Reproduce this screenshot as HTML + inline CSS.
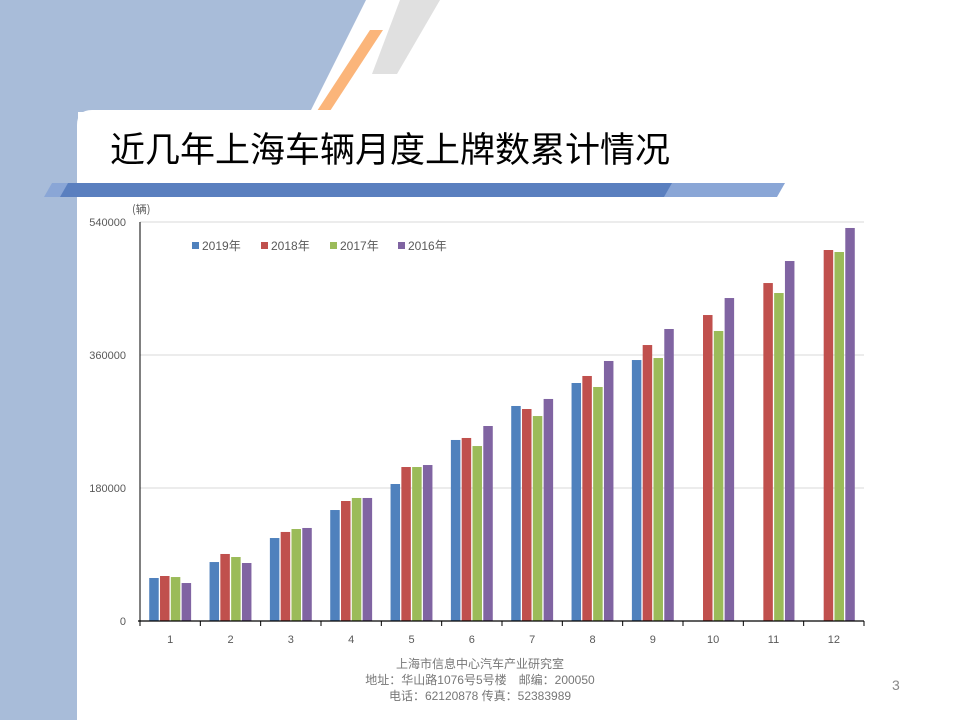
<!DOCTYPE html>
<html><head><meta charset="utf-8">
<style>
html,body{margin:0;padding:0;width:960px;height:720px;overflow:hidden;background:#fff;font-family:"Liberation Sans","Noto Sans CJK SC",sans-serif;}
#stage{position:relative;width:960px;height:720px;}
</style></head>
<body>
<div id="stage">
<svg width="960" height="720" style="position:absolute;left:0;top:0">
  <rect x="0" y="0" width="78" height="720" fill="#a8bcd9"/>
  <polygon points="0,0 366,0 310,112 0,112" fill="#a8bcd9"/>
  <polygon points="400,0 440,0 397,74 372,74" fill="#e0e0e0"/>
  <polygon points="370,30 383,30 330,111 317,111" fill="#fbb57a"/>
  <path d="M77,125 Q77,110 92,110 L960,110 L960,720 L77,720 Z" fill="#fff"/>
  <polygon points="52,183 785,183 777,197 44,197" fill="#8aa6d6"/>
  <polygon points="68,183 672,183 664,197 60,197" fill="#5a7fbf"/>
</svg>
<div style="position:absolute;left:110px;top:126px;font-size:35px;color:#000;font-family:'Noto Sans CJK SC',sans-serif;line-height:44px;letter-spacing:0px;">近几年上海车辆月度上牌数累计情况</div>

<svg id="chart" width="960" height="720" style="position:absolute;left:0;top:0"></svg>

<div style="position:absolute;left:280px;width:400px;top:656px;text-align:center;font-size:12px;line-height:16px;color:#777;font-family:'Liberation Sans','Noto Sans CJK SC',sans-serif;">上海市信息中心汽车产业研究室<br>地址：华山路1076号5号楼　邮编：200050<br>电话：62120878  传真：52383989</div>
<div style="position:absolute;left:892px;top:677px;font-size:14px;color:#888;">3</div>
</div>
<script>
const categories = ["1","2","3","4","5","6","7","8","9","10","11","12"];
const seriesNames = ["2019年","2018年","2017年","2016年"];
const s2019 = [58200,79800,112300,150200,185400,245000,291000,322100,353200,null,null,null];
const s2018 = [60900,90700,120500,162400,208400,247700,286900,331600,373500,414100,457400,502100];
const s2017 = [59500,86600,124500,166500,208400,236800,277400,316700,355900,392500,443900,499400];
const s2016 = [51400,78500,125900,166500,211100,263900,300500,351900,395200,437100,487200,531900];
const yTicks = [0,180000,360000,540000];

const colors = ["#4f81bd","#c0504d","#9bbb59","#8064a2"];
const series = [s2019,s2018,s2017,s2016];
const svg = document.getElementById('chart');
const NS = "http://www.w3.org/2000/svg";
const X0=140, X1=864, Y0=621, Y1=222, YMAX=540000;
const y = v => Y0 - v/YMAX*(Y0-Y1);
const bandW = (X1-X0)/categories.length;
const x = i => X0 + i*bandW;
function mk(tag, attrs){const e=document.createElementNS(NS,tag);for(const k in attrs)e.setAttribute(k,attrs[k]);svg.appendChild(e);return e;}

yTicks.forEach(t=>{
  if(t>0){
    const g=mk('line',{x1:X0,x2:X1,y1:y(t),y2:y(t),stroke:'#d9d9d9','stroke-width':1});
    
    
  }
  const tx=mk('text',{x:126,y:y(t)+4,'text-anchor':'end','font-size':11,fill:'#595959','font-family':'Liberation Sans, sans-serif'});
  tx.textContent=t;
  
  
});
const ya=mk('line',{x1:X0,x2:X0,y1:Y1,y2:Y0,stroke:'#000','stroke-width':1});


const ut=mk('text',{x:132,y:213,'font-size':11,fill:'#595959','font-family':'Noto Sans CJK SC, sans-serif'});
ut.textContent='(辆)';



const barW=9.5, gap=1.3;
categories.forEach((c,i)=>{
  const cx=x(i)+bandW/2;
  const start=cx-(4*barW+3*gap)/2;
  series.forEach((s,j)=>{
    const v=s[i];
    if(v==null) return;
    const r=mk('rect',{x:start+j*(barW+gap),y:y(v),width:barW,height:Y0-y(v),fill:colors[j]});
    
    
  });
  const tk=mk('line',{x1:x(i),x2:x(i),y1:Y0,y2:Y0+5,stroke:'#000'});
  
  
  const lb=mk('text',{x:cx,y:Y0+22,'text-anchor':'middle','font-size':11,fill:'#595959','font-family':'Liberation Sans, sans-serif'});
  lb.textContent=c;
  
  
});
const lt=mk('line',{x1:X1,x2:X1,y1:Y0,y2:Y0+5,stroke:'#000'});


const xa=mk('line',{x1:X0-2,x2:X1,y1:Y0,y2:Y0,stroke:'#000','stroke-width':1.2});



const lx=[192,261,330,398];
seriesNames.forEach((n,j)=>{
  const sq=mk('rect',{x:lx[j],y:242,width:7,height:7,fill:colors[j]});
  
  
  const t=mk('text',{x:lx[j]+10,y:250,'font-size':12,fill:'#595959','font-family':'Liberation Sans, Noto Sans CJK SC, sans-serif'});
  t.textContent=n;
  
  
});
</script>
</body></html>
